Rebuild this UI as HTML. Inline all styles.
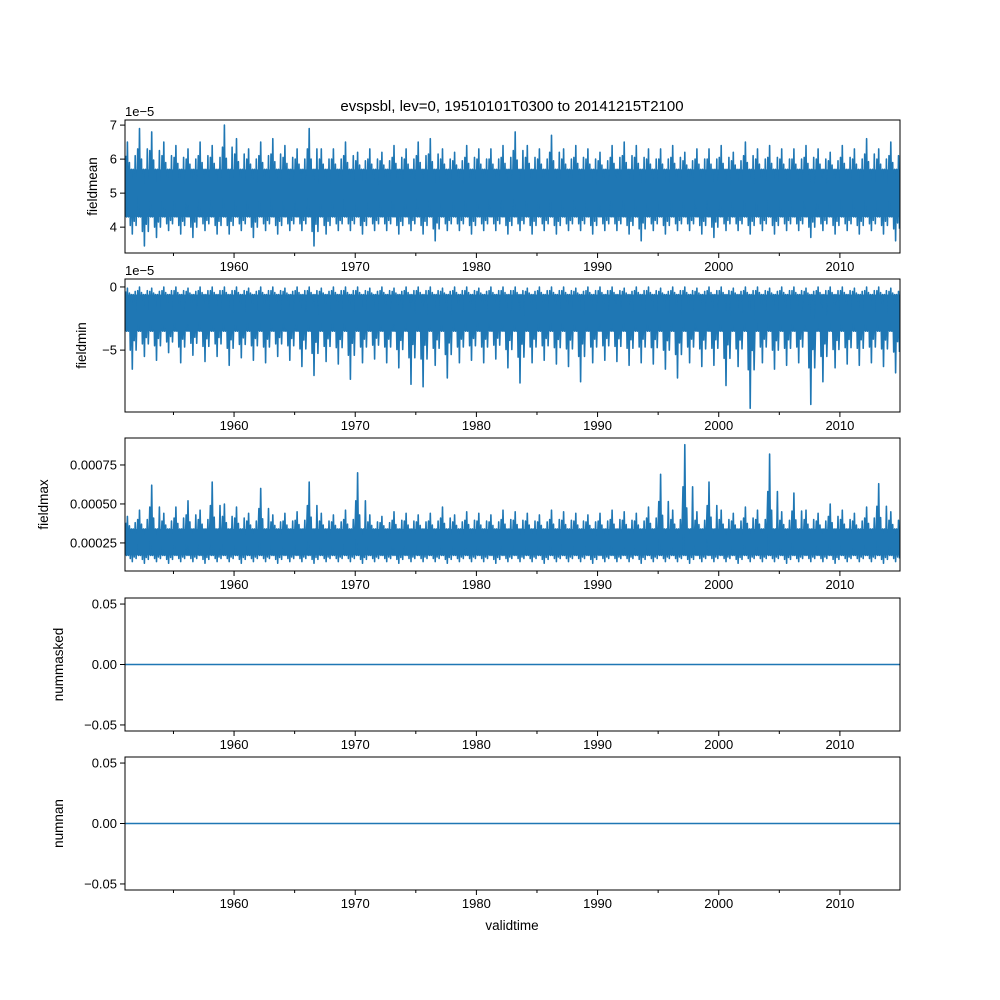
<!DOCTYPE html>
<html><head><meta charset="utf-8"><style>
html,body{margin:0;padding:0;background:#fff;}
svg{display:block;font-family:"Liberation Sans","DejaVu Sans",sans-serif;}
</style></head><body>
<svg id="fig" width="1000" height="1000" viewBox="0 0 1000 1000" xmlns="http://www.w3.org/2000/svg">
<rect width="1000" height="1000" fill="#fff"/>
<text x="512" y="111" font-size="15" text-anchor="middle">evspsbl, lev=0, 19510101T0300 to 20141215T2100</text>
<text x="512" y="930" font-size="13.5" text-anchor="middle">validtime</text>
</svg>
<script>
const years=[];for(let y=1951;y<=2014;y++)years.push(y);
const xTicks=[1960,1970,1980,1990,2000,2010];
const xMinor=[1955,1965,1975,1985,1995,2005];
// fieldmean (1e-5)
const meanHi=[6.5,6.9,6.8,6.5,6.4,6.3,6.5,6.4,7.0,6.6,6.3,6.5,6.6,6.4,6.3,6.9,6.3,6.3,6.5,6.2,6.3,6.2,6.4,6.3,6.5,6.6,6.3,6.2,6.4,6.3,6.3,6.4,6.8,6.4,6.3,6.7,6.3,6.4,6.3,6.2,6.4,6.5,6.4,6.3,6.3,6.4,6.2,6.3,6.3,6.4,6.2,6.5,6.3,6.4,6.3,6.3,6.4,6.3,6.2,6.4,6.3,6.6,6.3,6.5];
const meanLo=[3.8,3.45,3.7,3.9,3.8,3.7,3.9,3.8,3.8,3.9,3.7,3.9,3.8,3.9,3.9,3.45,3.8,3.9,3.9,3.8,3.9,3.9,3.8,3.9,3.8,3.6,3.9,3.9,3.8,3.9,3.9,3.8,3.9,3.8,3.9,3.8,3.9,3.9,3.8,3.9,3.9,3.8,3.6,3.9,3.8,3.9,3.9,3.8,3.7,3.9,3.9,3.8,3.9,3.8,3.9,3.9,3.7,3.9,3.8,3.9,3.8,3.9,3.8,3.6];
const meanCore=[4.3,5.7];
// fieldmin (1e-5)
const minHi=[-0.1,0,-0.1,0,0,-0.1,0,0,0,0,-0.1,0,0,-0.1,0,0,-0.1,0,0,0,-0.1,0,-0.1,0,0,0,-0.1,0,0,-0.1,0,0,0,-0.1,0,0,0,-0.1,0,0,0,-0.1,0,0,-0.1,0,0,-0.1,0,0,-0.1,0,0,-0.1,0,0,-0.1,0,0,0,-0.1,0,0,-0.1];
const minLo=[-6.5,-5.5,-5.8,-5.2,-6.0,-5.4,-5.9,-5.5,-6.2,-5.6,-5.8,-6.0,-5.5,-5.8,-6.3,-7.0,-5.9,-6.1,-7.3,-6.0,-5.7,-6.0,-6.4,-7.7,-7.9,-6.2,-7.2,-6.0,-5.8,-6.0,-5.7,-6.4,-7.6,-6.0,-5.8,-6.1,-6.3,-7.5,-6.0,-5.8,-5.9,-6.2,-6.0,-6.1,-6.5,-7.2,-6.0,-6.3,-6.2,-7.8,-6.3,-9.6,-6.0,-6.5,-6.2,-6.0,-9.3,-7.5,-6.4,-6.1,-6.2,-6.0,-6.3,-6.8];
const minCore=[-3.5,-0.6];
// fieldmax (1e-4)
const maxHi=[4.2,4.6,6.2,4.4,4.8,5.2,4.6,6.4,5.0,4.8,4.4,6.0,4.3,4.4,4.5,6.4,4.4,4.3,4.6,7.0,4.3,4.2,4.5,4.4,4.3,4.4,4.8,4.3,4.5,4.4,4.3,4.6,4.5,4.4,4.3,4.6,4.5,4.4,4.3,4.4,4.6,4.5,4.4,4.8,6.9,4.6,8.8,4.5,6.4,4.6,4.4,4.8,4.6,8.2,4.5,5.7,4.6,4.4,5.0,4.6,4.4,4.8,6.3,4.5];
const maxLo=[1.3,1.2,1.3,1.2,1.3,1.3,1.2,1.3,1.3,1.2,1.3,1.3,1.2,1.3,1.3,1.2,1.3,1.3,1.3,1.2,1.3,1.3,1.2,1.3,1.3,1.3,1.2,1.3,1.3,1.3,1.2,1.3,1.3,1.3,1.2,1.3,1.3,1.3,1.2,1.3,1.3,1.3,1.2,1.3,1.3,1.3,1.2,1.3,1.3,1.3,1.2,1.3,1.3,1.3,1.2,1.3,1.3,1.3,1.2,1.3,1.3,1.3,1.2,1.3];
const maxCore=[1.7,3.4];
const numVal=[0,0];

const NS="http://www.w3.org/2000/svg";
const svg=document.getElementById('fig');
const L=125,R=900,X0=1951.0,X1=2014.96;
const C="#1f77b4";
function xs(v){return L+(v-X0)/(X1-X0)*(R-L);}
function mk(tag,attrs,parent){const e=document.createElementNS(NS,tag);for(const k in attrs)e.setAttribute(k,attrs[k]);(parent||svg).appendChild(e);return e;}

const panels=[
 {name:'fieldmean',top:120,bot:253,lo:3.24,hi:7.15,ticks:[4,5,6,7],lbl:v=>String(v),hiA:meanHi,loA:meanLo,core:meanCore,off:'1e\u22125',lx:97},
 {name:'fieldmin',top:279,bot:412,lo:-9.9,hi:0.63,ticks:[0,-5],lbl:v=>v<0?'\u2212'+(-v):String(v),hiA:minHi,loA:minLo,core:minCore,off:'1e\u22125',lx:86},
 {name:'fieldmax',top:438,bot:571,lo:0.7,hi:9.23,ticks:[2.5,5.0,7.5],lbl:v=>(v/10000).toFixed(5),hiA:maxHi,loA:maxLo,core:maxCore,off:null,lx:48},
 {name:'nummasked',top:598,bot:731,lo:-0.055,hi:0.055,ticks:[0.05,0,-0.05],lbl:v=>(v<0?'\u2212':'')+Math.abs(v).toFixed(2),line:numVal,lx:63},
 {name:'numnan',top:757,bot:890,lo:-0.055,hi:0.055,ticks:[0.05,0,-0.05],lbl:v=>(v<0?'\u2212':'')+Math.abs(v).toFixed(2),line:numVal,lx:63}
];

panels.forEach(p=>{
 const g=mk('g',{});
 
 
 const ys=v=>p.bot-(v-p.lo)/(p.hi-p.lo)*(p.bot-p.top);
 const clip=mk('clipPath',{id:'c'+p.name},g);
 mk('rect',{x:L,y:p.top,width:R-L,height:p.bot-p.top},clip);
 const dg=mk('g',{'clip-path':'url(#c'+p.name+')'},g);
 if(p.hiA){
  const core=mk('rect',{x:L,y:ys(p.core[1]),width:R-L,height:ys(p.core[0])-ys(p.core[1]),fill:C},dg);
  
  
  const cH=p.core[1],cL=p.core[0];
  let pts=[];
  years.forEach((yr,i)=>{
   const h=p.hiA[i],l=p.loA[i];
   const mh=(h+cH)/2,ml=(l+cL)/2;
   const seq=[[0.05,mh],[0.12,cL],[0.2,h],[0.28,cL],[0.36,(mh+cH)/2],[0.44,ml],[0.52,cH],[0.6,l],[0.68,cH],[0.76,(ml+cL)/2],[0.84,mh],[0.92,ml]];
   seq.forEach(s=>pts.push([xs(yr+s[0]),ys(s[1])]));
  });
  const pl=mk('polyline',{points:pts.map(q=>q[0].toFixed(1)+','+q[1].toFixed(1)).join(' '),fill:'none',stroke:C,'stroke-width':1.6,'stroke-linejoin':'round'},dg);
  
  
 } else {
  const ln=mk('line',{x1:xs(X0),x2:xs(X1),y1:ys(p.line[0]),y2:ys(p.line[1]),stroke:C,'stroke-width':1.5},dg);
  
  
 }
 const fr=mk('rect',{x:L,y:p.top,width:R-L,height:p.bot-p.top,fill:'none',stroke:'#000','stroke-width':1},g);
 
 
 xTicks.forEach(t=>{
  const x=xs(t);
  mk('line',{x1:x,x2:x,y1:p.bot,y2:p.bot+5,stroke:'#000'},g);
  const tx=mk('text',{x:x,y:p.bot+18,'font-size':13,'text-anchor':'middle'},g);
  tx.textContent=t;
  
  
 });
 xMinor.forEach(t=>{const x=xs(t);mk('line',{x1:x,x2:x,y1:p.bot,y2:p.bot+3,stroke:'#000'},g);});
 p.ticks.forEach(t=>{
  const y=ys(t);
  mk('line',{x1:L-5,x2:L,y1:y,y2:y,stroke:'#000'},g);
  const tx=mk('text',{x:L-8,y:y+4.5,'font-size':13,'text-anchor':'end'},g);
  tx.textContent=p.lbl(t);
  
  
 });
 if(p.off){
  const o=mk('text',{x:L,y:p.top-4,'font-size':13},g);
  o.textContent=p.off;
  
  
 }
 const yl=mk('text',{x:p.lx,y:(p.top+p.bot)/2,'font-size':13.5,'text-anchor':'middle',transform:'rotate(-90 '+p.lx+' '+((p.top+p.bot)/2)+')'},g);
 yl.textContent=p.name;
 
 
});
</script>
</body></html>
